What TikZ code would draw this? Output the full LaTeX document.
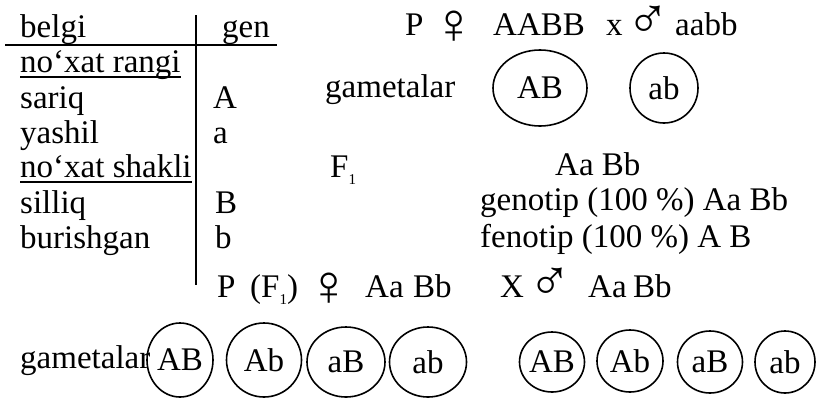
\documentclass[tikz,border=0pt]{standalone}
\usepackage{fontspec}
\setmainfont{Liberation Serif}
\usetikzlibrary{shapes.geometric}
\newcommand{\fsz}{\fontsize{33}{36}\selectfont}
\newcommand{\lowidx}[1]{\raisebox{-7pt}{\fontsize{15}{15}\selectfont #1}}
\newcommand{\femsym}{\raisebox{-8pt}{\scalebox{1.75}{♀}}}
\newcommand{\malsym}{\raisebox{-3pt}{\scalebox{1.75}{♂}}}
\begin{document}
\begin{tikzpicture}[x=1pt,y=-1pt,
  txt/.style={anchor=base west,inner sep=0,font=\fsz},
  gam/.style={draw,ellipse,line width=1.6pt,inner sep=0,font=\fsz},
  rule/.style={line width=1.8pt},
  uline/.style={line width=1.2pt}]
\useasboundingbox (0,0) rectangle (822,397);
% table
\node[txt] (belgi) at (20,37) {belgi};
\node[txt] (gen) at (222,37) {gen};
\coordinate (hl) at (5,45);
\coordinate (hr) at (277,45);
\coordinate (vt) at (196,15);
\coordinate (vb) at (196,285);
\draw[rule] (hl) -- (hr);
\draw[rule] (vt) -- (vb);
\node[txt] (nr) at (20,72) {no‘xat rangi};
\draw[uline] ([yshift=-5pt]nr.base west) -- ([yshift=-5pt]nr.base east);
\node[txt] (sariq) at (20,108) {sariq};
\node[txt] (gA) at (213,108) {A};
\node[txt] (yashil) at (20,143) {yashil};
\node[txt] (ga) at (213,143) {a};
\node[txt] (ns) at (20,177) {no‘xat shakli};
\draw[uline] ([yshift=-5pt]ns.base west) -- ([yshift=-5pt]ns.base east);
\node[txt] (silliq) at (20,213) {silliq};
\node[txt] (gB) at (215,213) {B};
\node[txt] (bur) at (20,248) {burishgan};
\node[txt] (gb) at (215,248) {b};
% top cross
\node[txt] (P1) at (405,35) {P};
\node[txt] (fem1) at (432,35) {\femsym};
\node[txt] (AABB) at (493,35) {AABB};
\node[txt] (x1) at (606,35) {x};
\node[txt] (mal1) at (626,35) {\malsym};
\node[txt] (aabb) at (675,35) {aabb};
\node[txt] (gam1) at (325,97) {gametalar};
\node[gam,minimum width=94pt,minimum height=76pt] (eAB) at (540,88) {AB};
\node[gam,minimum width=68pt,minimum height=70pt] (eab) at (664,88) {ab};
% F1
\node[txt] (F1) at (330,177) {F\lowidx{1}};
\node[txt] (F1g) at (555,175) {Aa Bb};
\node[txt] (geno) at (480,210) {genotip (100 \%) Aa Bb};
\node[txt] (feno) at (480,247) {fenotip (100 \%) A B};
% second cross
\node[txt] (P2) at (217,297) {P};
\node[txt] (PF) at (250,297) {(F\lowidx{1})};
\node[txt] (fem2) at (307,297) {\femsym};
\node[txt] (Aa2) at (365,297) {Aa};
\node[txt] (Bb2) at (413,297) {Bb};
\node[txt] (X2) at (500,297) {X};
\node[txt] (mal2) at (528,297) {\malsym};
\node[txt] (Aa3) at (588,297) {Aa};
\node[txt] (Bb3) at (633,297) {Bb};
% bottom gametes
\node[txt] (gam2) at (20,368) {gametalar};
\node[gam,minimum width=66pt,minimum height=74pt] (l1) at (180,360) {AB};
\node[gam,minimum width=75pt,minimum height=74pt] (l2) at (264,360) {Ab};
\node[gam,minimum width=78pt,minimum height=70pt] (l3) at (346,362) {aB};
\node[gam,minimum width=77pt,minimum height=70pt] (l4) at (428,362) {ab};
\node[gam,minimum width=65pt,minimum height=60pt] (r1) at (552,362) {AB};
\node[gam,minimum width=66pt,minimum height=62pt] (r2) at (630,361) {Ab};
\node[gam,minimum width=65pt,minimum height=62pt] (r3) at (710,362) {aB};
\node[gam,minimum width=60pt,minimum height=62pt] (r4) at (785,362) {ab};
\end{tikzpicture}
\end{document}
